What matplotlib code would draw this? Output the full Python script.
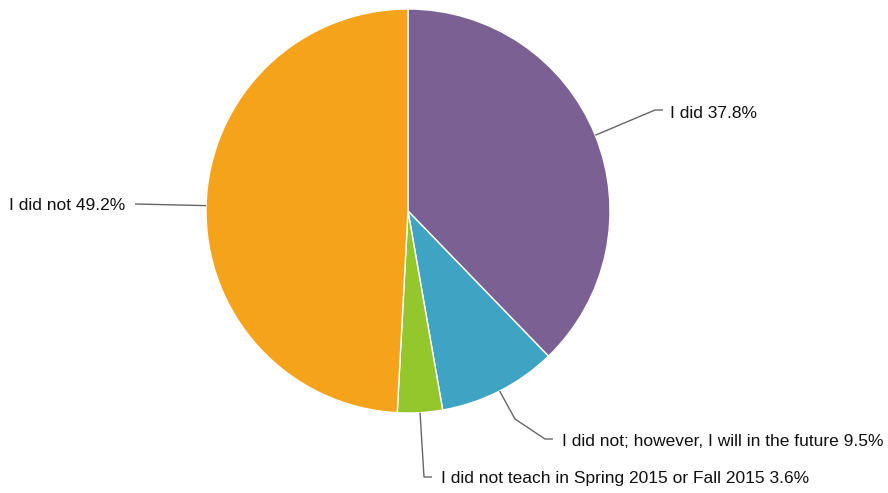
import numpy as np
import matplotlib.pyplot as plt

plt.rcParams['font.family'] = ['Liberation Sans', 'DejaVu Sans']

labels = ["I did", "I did not; however, I will in the future",
          "I did not teach in Spring 2015 or Fall 2015", "I did not"]
values = [37.8, 9.5, 3.6, 49.2]
colors = ["#7b6093", "#3fa3c4", "#93c72b", "#f5a31b"]

W, H = 888, 493
fig = plt.figure(figsize=(W / 100, H / 100), dpi=100)
ax = fig.add_axes([0, 0, 1, 1])

cx, cy, r = 408, H - 211, 202
wedges, _ = ax.pie(values, colors=colors, startangle=90, counterclock=False,
                   center=(cx, cy), radius=r, frame=True,
                   wedgeprops=dict(edgecolor="white", linewidth=1))
ax.set_xlim(0, W)
ax.set_ylim(0, H)
ax.set_aspect("equal")
ax.axis("off")

# connector bends and text anchors (pixel space, y down), one per slice
bends = [
    [(655, 110), (663, 110)],
    [(515, 419), (545, 439), (553, 439)],
    [(424, 477), (432, 477)],
    [(135, 204)],
]
anchors = [(670, 113, "left"), (562, 441, "left"), (441, 478, "left"), (125, 206, "right")]

for w, lab, v, pts, (tx, ty, ha) in zip(wedges, labels, values, bends, anchors):
    mid = np.deg2rad((w.theta1 + w.theta2) / 2)
    ex, ey = cx + r * np.cos(mid), cy + r * np.sin(mid)
    xs = [ex] + [p[0] for p in pts]
    ys = [ey] + [H - p[1] for p in pts]
    ax.plot(xs, ys, color="#666666", lw=1, solid_capstyle="butt")
    ax.text(tx, H - ty, f"{lab} {v}%", ha=ha, va="center", fontsize=12.5, color="#111111")

fig.savefig("out.png", dpi=100)
